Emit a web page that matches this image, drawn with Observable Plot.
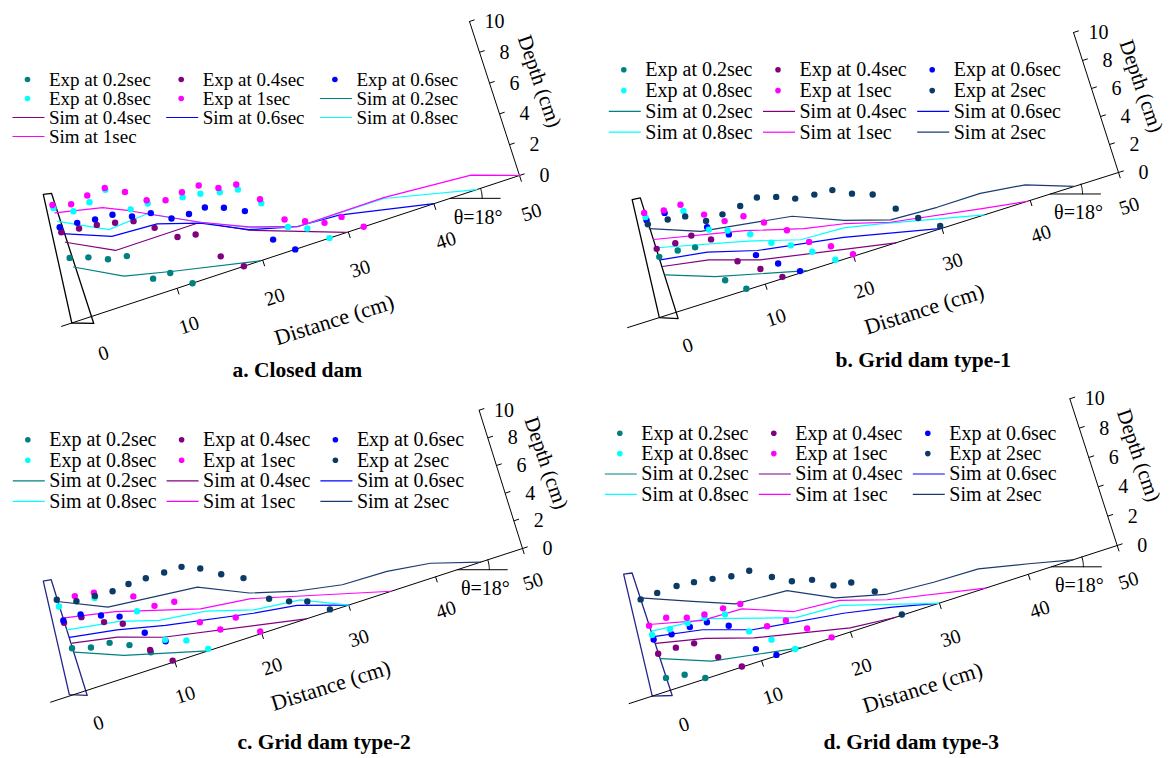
<!DOCTYPE html>
<html><head><meta charset="utf-8">
<script src="https://cdn.jsdelivr.net/npm/d3@7"></script>
<script src="https://cdn.jsdelivr.net/npm/@observablehq/plot@0.6"></script>
<style>
html,body{margin:0;padding:0;background:#fff;}
#chart{position:relative;width:1170px;height:758px;overflow:hidden;}
#chart svg, #chart svg text{font-family:"Liberation Serif","Times New Roman",Times,serif !important;}
</style></head><body><div id="chart"></div>
<script>
// ---------- labels / categories ----------
const seriesNames = ["0.2sec","0.4sec","0.6sec","0.8sec","1sec","2sec"];
const distanceTicks = [0,10,20,30,40,50];
const depthTicks = [0,2,4,6,8,10];
const captions = ["a. Closed dam","b. Grid dam type-1","c. Grid dam type-2","d. Grid dam type-3"];
const distanceTitle = "Distance (cm)";
const depthTitle = "Depth (cm)";
const slopeLabel = "θ=18°";
const slopeAngle = 18;

// ---------- data: [distance (cm), depth (cm)] ----------
// a. Closed dam
const a_exp_02 = [[-0.3,3.86],[1.7,3.53],[3.7,3.04],[5.8,2.86],[7.8,1.03],[9.8,1.03],[11.8,0]];
const a_exp_04 = [[-0.3,5.53],[1.7,5.40],[3.7,5.27],[5.7,5.04],[7.7,4.78],[9.7,3.98],[11.8,3.00],[13.8,2.80],[15.7,1.03],[17.8,0]];
const a_exp_06 = [[-0.3,5.85],[1.7,5.77],[3.7,5.62],[5.7,5.56],[7.7,5.08],[9.8,4.92],[11.8,4.20],[13.8,4.13],[15.7,4.20],[17.7,3.82],[19.8,3.22],[21.8,1.00],[23.8,0]];
const a_exp_08 = [[-0.3,7.09],[1.7,6.52],[3.7,6.74],[5.8,7.17],[7.8,5.53],[9.8,5.54],[13.7,5.24],[15.7,5.10],[17.8,4.81],[19.8,4.62],[21.8,3.36],[23.8,1.45],[25.8,0.99],[27.8,0]];
const a_exp_1  = [[-0.3,7.30],[1.7,6.98],[3.7,7.18],[5.8,7.28],[7.8,6.66],[9.8,5.75],[11.8,5.39],[13.8,5.54],[15.8,5.61],[17.8,5.09],[19.8,4.95],[21.8,3.62],[23.7,1.96],[25.8,1.46],[27.8,0.99],[29.8,1.01],[31.8,0]];
const a_sim_02 = [[-0.2,3.25],[4.8,1.74],[10.2,1.07],[19.7,0]];
const a_sim_04 = [[-0.2,4.86],[4.8,3.41],[14.7,3.43],[19.6,2.01],[29.8,0]];
const a_sim_06 = [[-0.3,5.43],[4.9,4.31],[10.1,4.17],[14.7,3.37],[19.6,2.05],[24.8,1.30],[29.6,1.16],[40,0]];
const a_sim_08 = [[-0.3,6.23],[4.8,4.76],[9.4,4.95],[14.7,3.43],[19.7,2.17],[24.8,1.27],[34.9,1.27],[45,0]];
const a_sim_1  = [[-0.3,6.78],[4.9,6.17],[7.4,5.53],[14.7,3.43],[19.7,2.21],[25,1.28],[34.9,1.33],[44.9,0.96],[50,0]];
const a_dam = [[-2.3,0],[0,-0.45],[0,8.0],[-0.9,8.1]];

// b. Grid dam type-1
const b_exp_02 = [[0,3.94],[2.1,3.97],[4,3.82],[6,1.07],[7.9,0.09]];
const b_exp_04 = [[0,4.51],[2.1,4.50],[4,4.66],[5.9,4.01],[7.9,2.05],[10,1.08],[12,0.12]];
const b_exp_06 = [[-0.1,6.57],[2,6.68],[5.9,4.89],[7.9,3.97],[10,2.07],[12,1.07],[14,0.13]];
const b_exp_08 = [[-0.1,6.80],[4,6.42],[6,4.69],[7.9,4.25],[10.1,3.54],[12,2.56],[13.9,1.99],[15.9,1.13],[18,0.14]];
const b_exp_1  = [[-0.1,7.10],[2,6.86],[3.9,6.88],[6,5.76],[7.9,4.92],[10,4.85],[11.9,4.02],[14,3.05],[15.9,1.84],[18,1.11],[20,0.14]];
const b_exp_2  = [[-0.1,6.28],[2.1,6.19],[4,6.03],[6,5.31],[7.9,5.40],[10,5.58],[12,5.79],[14,5.43],[15.9,4.93],[18,4.80],[20,4.72],[21.9,4.09],[24,3.61],[25.9,2.22],[27.9,1.15],[29.9,0.18]];
const b_sim_02 = [[0,2.65],[5.1,1.51],[14.8,0]];
const b_sim_04 = [[0,3.25],[5,2.73],[10.3,1.67],[24.8,0]];
const b_sim_06 = [[0,3.72],[5.1,3.26],[10.3,2.34],[19.6,1.43],[30,0]];
const b_sim_08 = [[0.1,4.57],[9.6,3.15],[15.1,2.15],[19.9,2.04],[23.8,1.55],[34.8,0]];
const b_sim_1  = [[0,5.18],[9.7,3.88],[15.8,2.80],[20.1,2.30],[24.9,1.45],[34.6,0.47],[39.7,0]];
const b_sim_2  = [[-0.1,5.97],[5.1,4.74],[15,3.85],[20.2,2.52],[25,1.60],[30.2,1.46],[35.1,1.48],[40,1.11],[45,0]];
const b_dam = [[-2,0],[-0.1,-0.45],[0,8.15],[-0.9,8.2]];

// c. Grid dam type-2
const c_exp_02 = [[-0.3,3.08],[1.7,2.72],[3.8,2.63],[5.8,2.06],[7.8,1.13]];
const c_exp_04 = [[-0.3,4.92],[1.7,4.92],[3.9,4.11],[5.8,3.60],[7.8,1.30],[9.8,0.12]];
const c_exp_06 = [[-0.3,5.09],[1.7,5.11],[3.8,4.61],[5.7,4.14],[7.8,2.54],[9.7,1.54]];
const c_exp_08 = [[-0.3,6.10],[3.7,5.90],[7.7,4.12],[9.7,1.64],[11.9,1.15],[13.9,0.13]];
const c_exp_1  = [[1.7,6.44],[3.8,6.25],[7.8,5.17],[9.7,4.10],[11.9,3.95],[13.9,2.05],[15.8,1.14],[17.8,1.60],[19.9,0.17]];
const c_exp_2  = [[-0.3,6.59],[1.7,6.07],[3.8,6.02],[5.8,5.95],[7.7,6.09],[9.7,6.10],[11.8,6.08],[13.8,6.08],[15.7,5.57],[17.7,4.75],[19.9,4.02],[21.9,2.12],[23.9,1.52],[25.8,1.12],[27.9,0.12]];
const c_sim_02 = [[-0.2,2.78],[4.9,1.50],[13.8,0]];
const c_sim_04 = [[-0.1,3.41],[4.8,2.84],[9.6,1.85],[25.1,0]];
const c_sim_06 = [[-0.2,3.85],[5,3.33],[10.2,2.58],[19.8,1.50],[24.6,1.08],[30,0]];
const c_sim_08 = [[-0.2,4.39],[5.5,3.84],[9.7,3.05],[14.9,2.66],[19.9,1.72],[25.1,1.38],[30,0]];
const c_sim_1  = [[-0.1,5.24],[5.4,4.56],[14.4,2.92],[20,2.51],[34.9,0]];
const c_sim_2  = [[-0.3,6.46],[4.8,5.01],[14.8,4.41],[20,2.92],[25.1,2.02],[30,1.47],[35.1,1.40],[39.9,1.00],[45.2,0]];
const c_dam = [[-2.1,0.1],[-0.26,-0.34],[-0.23,8.02],[-1.1,8.1]];

// d. Grid dam type-3
const d_exp_02 = [[-0.3,0.85],[1.7,0.67],[3.7,0.06]];
const d_exp_04 = [[-0.3,2.50],[1.7,2.52],[3.7,2.42],[5.7,1.09],[7.8,0.04]];
const d_exp_06 = [[-0.3,3.46],[1.7,3.43],[3.8,3.51],[5.7,3.47],[7.8,2.81],[9.8,0.83],[11.7,0.06]];
const d_exp_08 = [[-0.3,3.78],[1.7,3.77],[3.7,3.80],[5.6,3.79],[7.8,3.59],[9.7,2.06],[11.7,1.10],[13.8,0.05]];
const d_exp_1  = [[-0.3,4.41],[1.7,4.56],[3.8,4.15],[5.7,4.00],[7.8,4.00],[9.7,3.93],[11.7,2.02],[13.8,2.00],[15.7,1.08],[17.9,0.04]];
const d_exp_2  = [[-0.3,6.20],[1.6,6.27],[3.8,6.31],[5.7,6.20],[7.7,6.03],[9.7,5.82],[11.7,5.80],[13.8,4.96],[15.7,4.30],[17.8,3.98],[19.8,3.21],[21.7,3.03],[23.8,2.01],[25.8,0.05]];
const d_sim_02 = [[-0.2,2.14],[4.9,0.97],[14.6,0]];
const d_sim_04 = [[-0.2,3.19],[5,2.51],[10,1.55],[20.1,0.25],[25.1,0]];
const d_sim_06 = [[-0.2,3.65],[5,3.09],[10.1,2.09],[19.9,1.29],[25.1,0.69],[29.9,0]];
const d_sim_08 = [[-0.2,4.02],[5.7,3.71],[14.9,1.97],[19.9,1.83],[29.9,0]];
const d_sim_1  = [[-0.3,4.49],[5.3,3.67],[9.7,3.59],[14.9,2.39],[19.9,2.17],[24.8,1.25],[35.2,0]];
const d_sim_2  = [[-0.3,6.30],[4.9,5.04],[9.2,4.03],[14.9,3.82],[19.6,2.40],[24.8,1.61],[30.1,1.40],[35.1,1.33],[40.4,0.64],[45,0]];
const d_dam = [[-2.3,0],[-0.25,-0.36],[-0.3,8.0],[-1.2,8.1]];

// ---------- styles ----------
const expColors = ["#008080","#800080","#0000ff","#00ffff","#ff00ff","#0b3a66"];
const simColors = ["#008080","#800080","#0000ff","#00ffff","#ff00ff","#1c3a70"];
const FONT = '"Liberation Serif","Times New Roman",Times,serif';

// ---------- layout (screen geometry of each oblique panel) ----------
const panels = [
  {exp:[a_exp_02,a_exp_04,a_exp_06,a_exp_08,a_exp_1], sim:[a_sim_02,a_sim_04,a_sim_06,a_sim_08,a_sim_1], dam:a_dam,
   O:[91,316], u:[8.56,-2.82], v:[-5.0,-15.4], bedFrom:-3.5, damColor:"#000000",
   leg:{x:27, dx:153.7, y:79, dy:19, fs:19}, cap:[232,370], theta:41.9},
  {exp:[b_exp_02,b_exp_04,b_exp_06,b_exp_08,b_exp_1,b_exp_2], sim:[b_sim_02,b_sim_04,b_sim_06,b_sim_08,b_sim_1,b_sim_2], dam:b_dam,
   O:[676.5,311.5], u:[8.83,-2.79], v:[-4.5,-14.0], bedFrom:-5.6, damColor:"#000000",
   leg:{x:623.3, dx:154.2, y:69.3, dy:20.8, fs:20}, cap:[835,360], theta:42.3},
  {exp:[c_exp_02,c_exp_04,c_exp_06,c_exp_08,c_exp_1,c_exp_2], sim:[c_sim_02,c_sim_04,c_sim_06,c_sim_08,c_sim_1,c_sim_2], dam:c_dam,
   O:[87.5,689.5], u:[8.69,-2.83], v:[-4.34,-13.83], bedFrom:-4.3, damColor:"#26268a",
   leg:{x:27.3, dx:153.8, y:439.3, dy:20.5, fs:20}, cap:[237,742], theta:42.5},
  {exp:[d_exp_02,d_exp_04,d_exp_06,d_exp_08,d_exp_1,d_exp_2], sim:[d_sim_02,d_sim_04,d_sim_06,d_sim_08,d_sim_1,d_sim_2], dam:d_dam,
   O:[672.2,689], u:[8.89,-2.88], v:[-4.74,-14.67], bedFrom:-4.9, damColor:"#26268a",
   leg:{x:619.3, dx:154, y:432.7, dy:20.4, fs:20}, cap:[823,742], theta:42.6}
];

function proj(L, d, h) {
  return [L.O[0] + d*L.u[0] + h*L.v[0], L.O[1] + d*L.u[1] + h*L.v[1]];
}
function rows(L, arr) {
  return arr.map(([d,h]) => { const p = proj(L,d,h); return {x:p[0], y:p[1]}; });
}
const T = {fontFamily: FONT, fill: "#000"};

const marks = [];
panels.forEach((L, pi) => {
  // dam wall
  marks.push(Plot.line(rows(L, [...L.dam, L.dam[0]]), {x:"x", y:"y", stroke:L.damColor, strokeWidth:1.3}));
  // channel bed (distance axis)
  marks.push(Plot.line(rows(L, [[L.bedFrom,0],[50,0]]), {x:"x", y:"y", stroke:"#000", strokeWidth:1}));
  // depth axis
  marks.push(Plot.line(rows(L, [[50,0],[50,10]]), {x:"x", y:"y", stroke:"#000", strokeWidth:1}));
  // distance ticks
  marks.push(Plot.link(distanceTicks.slice(1), {
    x1: t => proj(L,t,0)[0], y1: t => proj(L,t,0)[1],
    x2: t => proj(L,t,-0.4)[0], y2: t => proj(L,t,-0.4)[1], stroke:"#000", strokeWidth:1}));
  // depth ticks
  marks.push(Plot.link(depthTicks, {
    x1: t => proj(L,50,t)[0], y1: t => proj(L,50,t)[1],
    x2: t => proj(L,50.6,t)[0], y2: t => proj(L,50.6,t)[1], stroke:"#000", strokeWidth:1}));
  // tick labels
  marks.push(Plot.text(distanceTicks, {...T,
    x: t => proj(L,t,-2.4)[0], y: t => proj(L,t,-2.4)[1], text: t => String(t),
    rotate:-18, fontSize:20}));
  marks.push(Plot.text(depthTicks, {...T,
    x: t => proj(L,50,t)[0], y: t => proj(L,50,t)[1], dx:25, text: t => String(t),
    fontSize:20}));
  // axis titles
  marks.push(Plot.text([distanceTitle], {...T,
    x: () => proj(L,25.5,-4.9)[0], y: () => proj(L,25.5,-4.9)[1], text: t => t,
    rotate:-17.5, fontSize:22}));
  marks.push(Plot.text([depthTitle], {...T,
    x: () => proj(L,50,5.6)[0], y: () => proj(L,50,5.6)[1], dx:48, dy:-8, text: t => t,
    rotate:71, fontSize:21}));
  // slope annotation
  const s = proj(L, L.theta, 0);
  marks.push(Plot.line([{x:s[0], y:s[1]}, {x:s[0]+50, y:s[1]}], {x:"x", y:"y", stroke:"#000", strokeWidth:1}));
  const arc = d3.range(0, slopeAngle + 0.1, 2).map(a => ({x: s[0] + 32*Math.cos(a*Math.PI/180), y: s[1] - 32*Math.sin(a*Math.PI/180)}));
  marks.push(Plot.line(arc, {x:"x", y:"y", stroke:"#000", strokeWidth:1}));
  marks.push(Plot.text([slopeLabel], {...T, x: () => s[0]+28, y: () => s[1]+19, text: t => t, fontSize:20}));
  // simulated profiles
  L.sim.forEach((arr, i) => {
    marks.push(Plot.line(rows(L, arr), {x:"x", y:"y", stroke:simColors[i], strokeWidth:1.2}));
  });
  // experimental points
  L.exp.forEach((arr, i) => {
    marks.push(Plot.dot(rows(L, arr), {x:"x", y:"y", r:3.2, fill:expColors[i], stroke:"none"}));
  });
  // legend
  const n = L.exp.length;
  const items = [];
  for (let i = 0; i < n; i++) items.push({label:"Exp at " + seriesNames[i], color:expColors[i], kind:"dot"});
  for (let i = 0; i < n; i++) items.push({label:"Sim at " + seriesNames[i], color:simColors[i], kind:"line"});
  items.forEach((it, k) => { it.cx = L.leg.x + (k % 3) * L.leg.dx; it.cy = L.leg.y + Math.floor(k / 3) * L.leg.dy; });
  const dots = items.filter(it => it.kind === "dot");
  const lines = items.filter(it => it.kind === "line");
  marks.push(Plot.dot(dots, {x:"cx", y:"cy", r:2.8, fill:"color", stroke:"none"}));
  marks.push(Plot.link(lines, {x1: it => it.cx - 15, x2: it => it.cx + 17, y1:"cy", y2:"cy", stroke:"color", strokeWidth:1.2}));
  marks.push(Plot.text(items, {...T, x:"cx", y:"cy", dx:21.5, text:"label", textAnchor:"start", fontSize:L.leg.fs}));
  // caption
  marks.push(Plot.text([captions[pi]], {...T, x: () => L.cap[0], y: () => L.cap[1], text: t => t, textAnchor:"start",
    fontSize:21.5, fontWeight:"bold"}));
});

const chart = Plot.plot({
  width: 1170, height: 758,
  marginTop: 0, marginRight: 0, marginBottom: 0, marginLeft: 0,
  x: {domain:[0,1170], range:[0,1170], axis:null},
  y: {domain:[0,758], range:[0,758], axis:null},
  color: {type:"identity"},
  style: {fontFamily: FONT, background:"#fff", overflow:"visible"},
  marks
});
document.getElementById("chart").appendChild(chart);
</script>
</body></html>
